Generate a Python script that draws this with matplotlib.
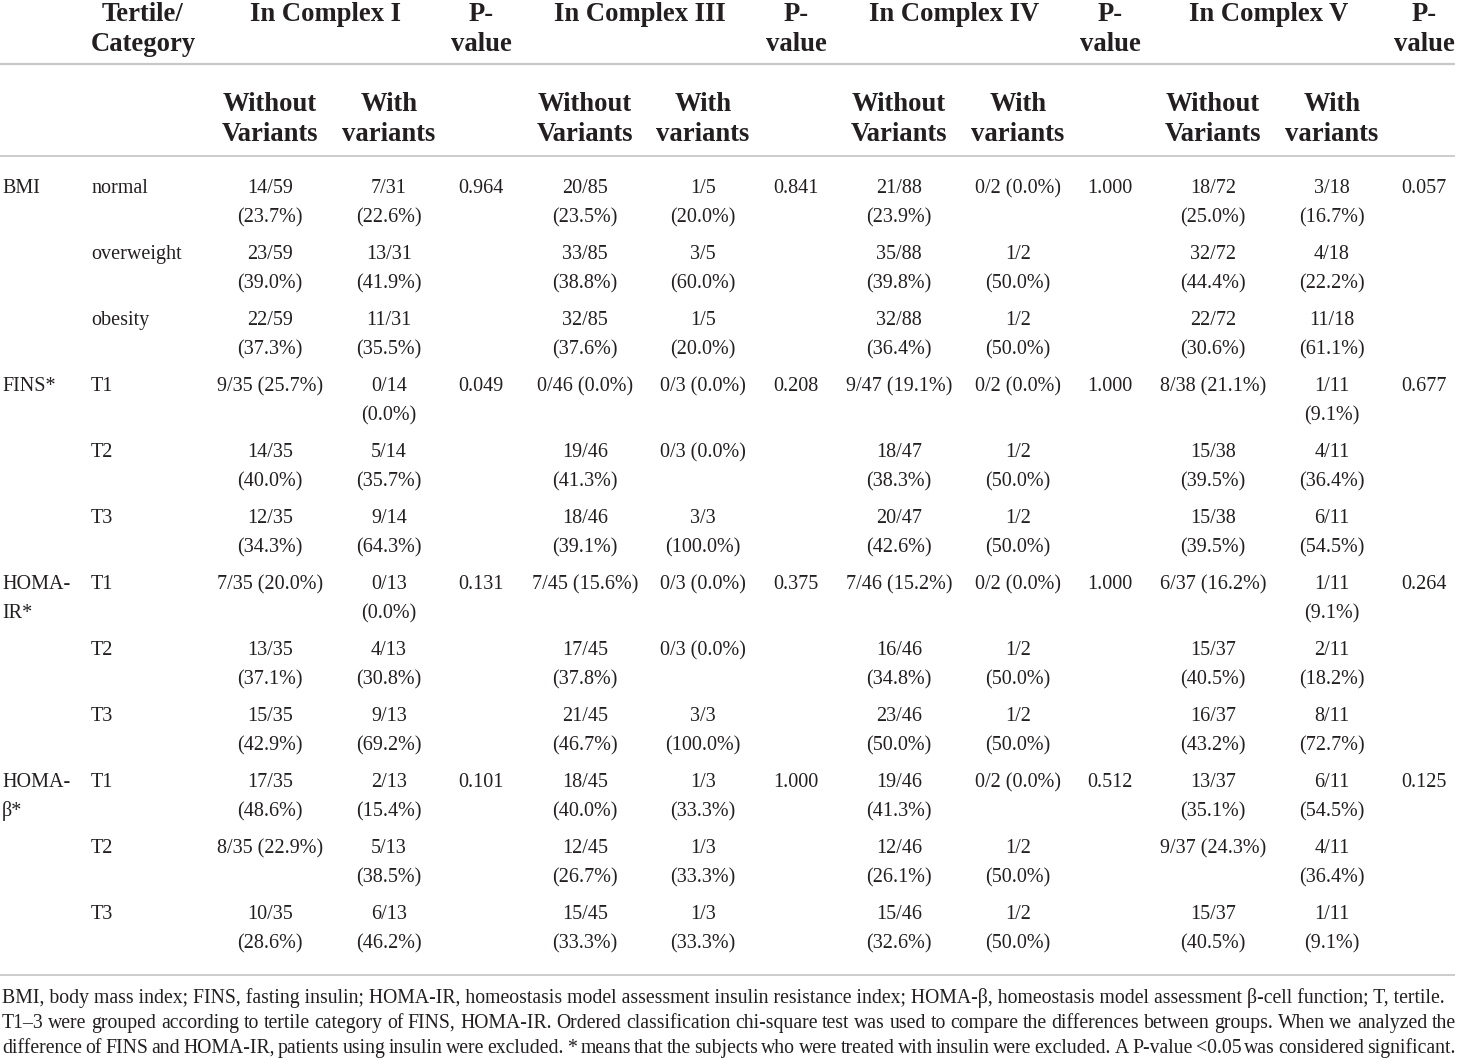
import matplotlib.pyplot as plt

plt.rcParams['font.family'] = ['Liberation Serif', 'DejaVu Serif']

# --- table content ---
groups = ["BMI", "", "", "FINS*", "", "", "HOMA-\nIR*", "", "", "HOMA-\nβ*", "", ""]
categories = ["normal", "overweight", "obesity", "T1", "T2", "T3",
              "T1", "T2", "T3", "T1", "T2", "T3"]

c1_without = ["14/59\n(23.7%)", "23/59\n(39.0%)", "22/59\n(37.3%)",
              "9/35 (25.7%)", "14/35\n(40.0%)", "12/35\n(34.3%)",
              "7/35 (20.0%)", "13/35\n(37.1%)", "15/35\n(42.9%)",
              "17/35\n(48.6%)", "8/35 (22.9%)", "10/35\n(28.6%)"]
c1_with = ["7/31\n(22.6%)", "13/31\n(41.9%)", "11/31\n(35.5%)",
           "0/14\n(0.0%)", "5/14\n(35.7%)", "9/14\n(64.3%)",
           "0/13\n(0.0%)", "4/13\n(30.8%)", "9/13\n(69.2%)",
           "2/13\n(15.4%)", "5/13\n(38.5%)", "6/13\n(46.2%)"]
c1_p = ["0.964", "", "", "0.049", "", "", "0.131", "", "", "0.101", "", ""]

c3_without = ["20/85\n(23.5%)", "33/85\n(38.8%)", "32/85\n(37.6%)",
              "0/46 (0.0%)", "19/46\n(41.3%)", "18/46\n(39.1%)",
              "7/45 (15.6%)", "17/45\n(37.8%)", "21/45\n(46.7%)",
              "18/45\n(40.0%)", "12/45\n(26.7%)", "15/45\n(33.3%)"]
c3_with = ["1/5\n(20.0%)", "3/5\n(60.0%)", "1/5\n(20.0%)",
           "0/3 (0.0%)", "0/3 (0.0%)", "3/3\n(100.0%)",
           "0/3 (0.0%)", "0/3 (0.0%)", "3/3\n(100.0%)",
           "1/3\n(33.3%)", "1/3\n(33.3%)", "1/3\n(33.3%)"]
c3_p = ["0.841", "", "", "0.208", "", "", "0.375", "", "", "1.000", "", ""]

c4_without = ["21/88\n(23.9%)", "35/88\n(39.8%)", "32/88\n(36.4%)",
              "9/47 (19.1%)", "18/47\n(38.3%)", "20/47\n(42.6%)",
              "7/46 (15.2%)", "16/46\n(34.8%)", "23/46\n(50.0%)",
              "19/46\n(41.3%)", "12/46\n(26.1%)", "15/46\n(32.6%)"]
c4_with = ["0/2 (0.0%)", "1/2\n(50.0%)", "1/2\n(50.0%)",
           "0/2 (0.0%)", "1/2\n(50.0%)", "1/2\n(50.0%)",
           "0/2 (0.0%)", "1/2\n(50.0%)", "1/2\n(50.0%)",
           "0/2 (0.0%)", "1/2\n(50.0%)", "1/2\n(50.0%)"]
c4_p = ["1.000", "", "", "1.000", "", "", "1.000", "", "", "0.512", "", ""]

c5_without = ["18/72\n(25.0%)", "32/72\n(44.4%)", "22/72\n(30.6%)",
              "8/38 (21.1%)", "15/38\n(39.5%)", "15/38\n(39.5%)",
              "6/37 (16.2%)", "15/37\n(40.5%)", "16/37\n(43.2%)",
              "13/37\n(35.1%)", "9/37 (24.3%)", "15/37\n(40.5%)"]
c5_with = ["3/18\n(16.7%)", "4/18\n(22.2%)", "11/18\n(61.1%)",
           "1/11\n(9.1%)", "4/11\n(36.4%)", "6/11\n(54.5%)",
           "1/11\n(9.1%)", "2/11\n(18.2%)", "8/11\n(72.7%)",
           "6/11\n(54.5%)", "4/11\n(36.4%)", "1/11\n(9.1%)"]
c5_p = ["0.057", "", "", "0.677", "", "", "0.264", "", "", "0.125", "", ""]

complex_names = ["In Complex I", "In Complex III", "In Complex IV", "In Complex V"]
sub_headers = ["Without\nVariants", "With\nvariants"]

footnote = [
    "BMI, body mass index; FINS, fasting insulin; HOMA-IR, homeostasis model assessment insulin resistance index; "
    "HOMA-β, homeostasis model assessment β-cell function; T, tertile.",
    "T1–3 were grouped according to tertile category of FINS, HOMA-IR. Ordered classification chi-square test "
    "was used to compare the differences between groups. When we analyzed the",
    "difference of FINS and HOMA-IR, patients using insulin were excluded. * means that the subjects who were "
    "treated with insulin were excluded. A P-value <0.05 was considered significant.",
]

# --- layout ---
W, H = 1460, 1060
fig = plt.figure(figsize=(W / 100, H / 100), dpi=100)
ax = fig.add_axes([0, 0, 1, 1])
ax.set_xlim(0, W)
ax.set_ylim(H, 0)
ax.axis('off')

TXT = '#231f20'
LINE = '#c8c8c8'
BODY = 14.5
HEAD = 19.2

col_x = {'w1': 270, 'v1': 389, 'p1': 481,
         'w3': 585, 'v3': 703, 'p3': 796,
         'w4': 899, 'v4': 1018, 'p4': 1110,
         'w5': 1213, 'v5': 1332, 'p5': 1424}
data_cols = [('w1', c1_without), ('v1', c1_with), ('p1', c1_p),
             ('w3', c3_without), ('v3', c3_with), ('p3', c3_p),
             ('w4', c4_without), ('v4', c4_with), ('p4', c4_p),
             ('w5', c5_without), ('v5', c5_with), ('p5', c5_p)]


def cell(x, y0, s, ha='center', size=BODY, weight='normal', step=29):
    for k, line in enumerate(s.split('\n')):
        ax.text(x, y0 + k * step, line, ha=ha, va='baseline', fontsize=size,
                fontweight=weight, color=TXT)


# header row 1
cell(143, 21, "Tertile/\nCategory", size=HEAD, weight='bold', step=30)
for i, n in enumerate([1, 3, 4, 5]):
    w = col_x['w%d' % n]
    v = col_x['v%d' % n]
    cell((w + v) / 2 - 4, 21, complex_names[i], size=HEAD, weight='bold')
    cell(col_x['p%d' % n], 21, "P-\nvalue", size=HEAD, weight='bold', step=30)

# header row 2
for n in [1, 3, 4, 5]:
    cell(col_x['w%d' % n], 111, sub_headers[0], size=HEAD, weight='bold', step=30)
    cell(col_x['v%d' % n], 111, sub_headers[1], size=HEAD, weight='bold', step=30)

# rules
for y, lw in [(64, 1.6), (156, 1.3), (975, 1.3)]:
    ax.plot([0, 1455], [y, y], color=LINE, lw=lw, solid_capstyle='butt')

# body rows
for r in range(len(categories)):
    y0 = 193 + 66 * r
    cell(2, y0, groups[r], ha='left')
    cell(91, y0, categories[r], ha='left')
    for key, vals in data_cols:
        cell(col_x[key], y0, vals[r])

# footnote: size fitted so the first line ends near x=1437, lines 2-3 justified
fig.canvas.draw()
renderer = fig.canvas.get_renderer()
probe = ax.text(0, 0, footnote[0], fontsize=12)
FN = 12 * (1437 - 2) / probe.get_window_extent(renderer).width
probe.remove()

left, right = 2, 1456
for i, line in enumerate(footnote):
    yb = 1003 + 25 * i
    if i == 0:
        ax.text(left, yb, line, ha='left', va='baseline', fontsize=FN, color=TXT)
        continue
    words = line.split(' ')
    tmp = [ax.text(0, 0, w_, fontsize=FN) for w_ in words]
    widths = [t.get_window_extent(renderer).width for t in tmp]
    for t in tmp:
        t.remove()
    gap = (right - left - sum(widths)) / (len(words) - 1)
    x = left
    for w_, wd in zip(words, widths):
        ax.text(x, yb, w_, ha='left', va='baseline', fontsize=FN, color=TXT)
        x += wd + gap

fig.savefig('out.png', dpi=100, facecolor='white')
